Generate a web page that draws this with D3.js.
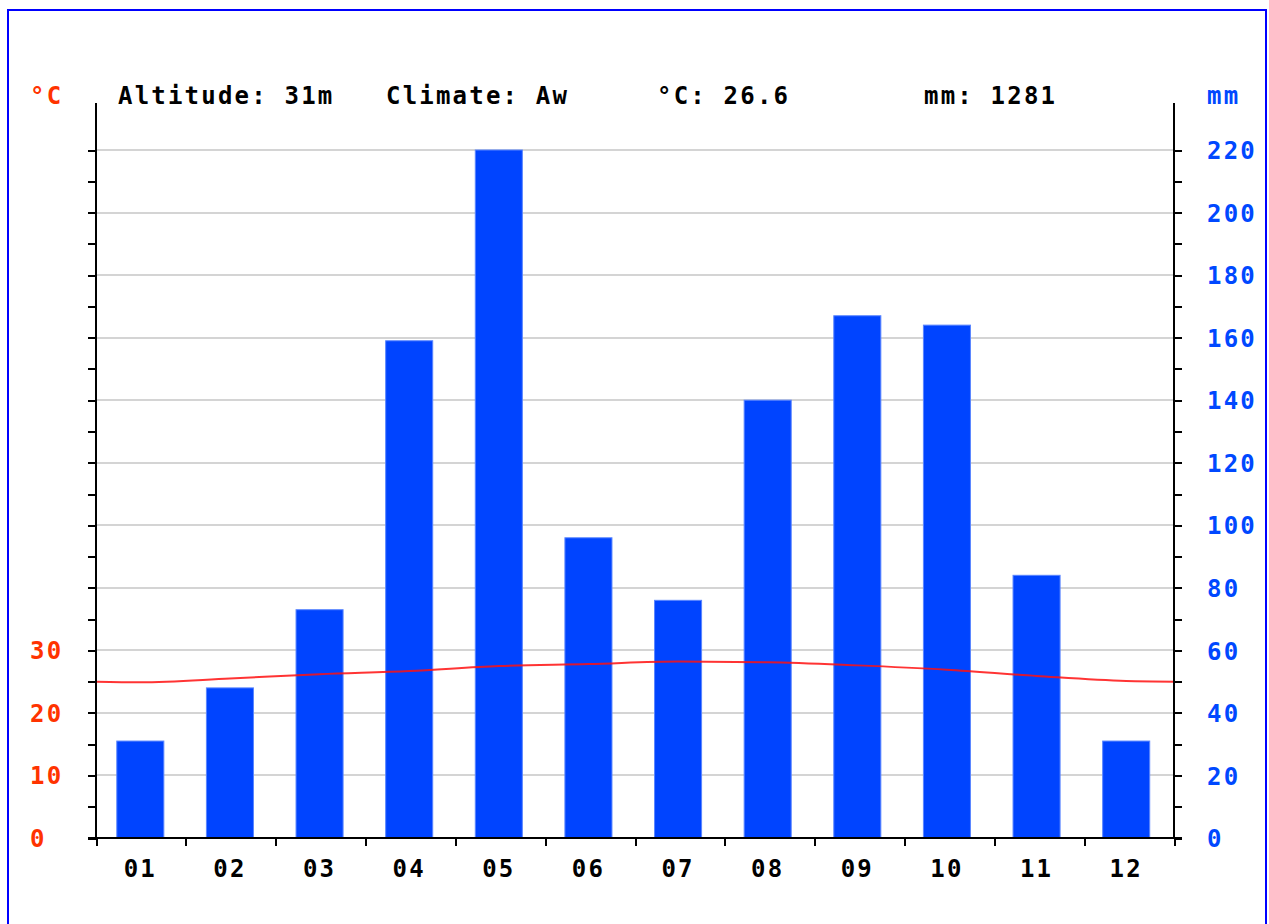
<!doctype html>
<html>
<head>
<meta charset="utf-8">
<title>Climate chart</title>
<script src="https://cdn.jsdelivr.net/npm/d3@7"></script>
<style>
body { margin: 0; background: #fff; }
text { font-family: "DejaVu Sans Mono", monospace; font-weight: bold; font-size: 24px; letter-spacing: 2.2px; }
.axis path, .axis line { stroke: #000; stroke-width: 2; shape-rendering: crispEdges; }
.grid line { stroke: #d4d4d4; stroke-width: 2; shape-rendering: crispEdges; }
</style>
</head>
<body>
<script>
// monthly data
var months = ["01", "02", "03", "04", "05", "06", "07", "08", "09", "10", "11", "12"];
var precip = [31, 48, 73, 159, 220, 96, 76, 140, 167, 164, 84, 31];   // mm
var temp = [24.9, 25.5, 26.2, 26.7, 27.5, 27.8, 28.2, 28.1, 27.6, 26.9, 25.9, 25.1]; // °C
var tempLabels = [0, 10, 20, 30];
var header = ["Altitude: 31m", "Climate: Aw", "°C: 26.6", "mm: 1281"];
var headerX = [118, 386, 657, 924];

var W = 1269, H = 924;
var plotLeft = 96, plotRight = 1174, plotBottom = 838, plotTop = 150;

var svg = d3.select("body").append("svg")
    .attr("width", W)
    .attr("height", H);

svg.append("rect")
    .attr("x", 8).attr("y", 10)
    .attr("width", 1258).attr("height", 930)
    .attr("fill", "none")
    .attr("stroke", "#0000ff")
    .attr("stroke-width", 2);

// bars sit a touch left of the tick slots in the original
var x = d3.scaleBand()
    .domain(months)
    .range([plotLeft - 0.5, plotRight - 3])
    .paddingInner(0.475)
    .paddingOuter(0.2375);

var xi = d3.scaleLinear().domain([0, 12]).range([plotLeft, plotRight]);

var yMm = d3.scaleLinear().domain([0, 220]).range([plotBottom, plotTop]);
var yT = d3.scaleLinear().domain([0, 110]).range([plotBottom, plotTop]);

// grid
svg.append("g")
    .attr("class", "grid")
    .selectAll("line")
    .data(d3.range(20, 221, 20))
    .enter().append("line")
    .attr("x1", plotLeft).attr("x2", plotRight)
    .attr("y1", function(d) { return yMm(d); })
    .attr("y2", function(d) { return yMm(d); });

// bars
svg.selectAll(".bar")
    .data(precip)
    .enter().append("rect")
    .attr("class", "bar")
    .attr("x", function(d, i) { return x(months[i]); })
    .attr("width", x.bandwidth())
    .attr("y", function(d) { return yMm(d); })
    .attr("height", function(d) { return plotBottom - yMm(d); })
    .attr("fill", "#0044ff")
    .attr("stroke", "#5a86ff")
    .attr("stroke-width", 1);

// temperature line, wrapped to the axes
var edge = (temp[0] + temp[11]) / 2;
var pts = [[plotLeft, yT(edge)]]
    .concat(temp.map(function(d, i) { return [x(months[i]) + x.bandwidth() / 2, yT(d)]; }))
    .concat([[plotRight, yT(edge)]]);

svg.append("path")
    .datum(pts)
    .attr("fill", "none")
    .attr("stroke", "#ff1010")
    .attr("stroke-opacity", 0.85)
    .attr("stroke-width", 2)
    .attr("d", d3.line().curve(d3.curveMonotoneX));

// left axis (ticks only)
var gl = svg.append("g")
    .attr("class", "axis")
    .attr("transform", "translate(" + plotLeft + ",0)")
    .call(d3.axisLeft(yMm).tickValues(d3.range(0, 221, 10)).tickSize(8).tickFormat(""));
gl.select(".domain").remove();

// right axis
var gr = svg.append("g")
    .attr("class", "axis")
    .attr("transform", "translate(" + plotRight + ",0)")
    .call(d3.axisRight(yMm).tickValues(d3.range(0, 221, 10)).tickSize(8).tickPadding(25)
        .tickFormat(function(d) { return d % 20 ? "" : d; }));
gr.select(".domain").remove();
gr.selectAll("text").attr("fill", "#0048ff").attr("font-size", null).attr("font-family", null)
    .attr("dy", "0.36em");

// axis lines
svg.append("line").attr("x1", plotLeft).attr("x2", plotLeft).attr("y1", 103).attr("y2", plotBottom + 1)
    .attr("stroke", "#000").attr("stroke-width", 2);
svg.append("line").attr("x1", plotRight).attr("x2", plotRight).attr("y1", 103).attr("y2", plotBottom + 1)
    .attr("stroke", "#000").attr("stroke-width", 2);

// bottom axis
var gb = svg.append("g")
    .attr("class", "axis")
    .attr("transform", "translate(0," + plotBottom + ")")
    .call(d3.axisBottom(xi).ticks(12).tickSize(8).tickFormat(""));
gb.select(".domain").remove();
svg.append("line").attr("x1", plotLeft - 8).attr("x2", plotRight + 8).attr("y1", plotBottom).attr("y2", plotBottom)
    .attr("stroke", "#000").attr("stroke-width", 2);

var gm = svg.append("g")
    .attr("transform", "translate(0," + plotBottom + ")")
    .call(d3.axisBottom(x).tickSize(0).tickPadding(22));
gm.select(".domain").remove();
gm.selectAll("text").attr("fill", "#000").attr("font-size", null).attr("font-family", null);

// temperature labels
svg.selectAll(".tlab")
    .data(tempLabels)
    .enter().append("text")
    .attr("class", "tlab")
    .attr("x", 30)
    .attr("y", function(d) { return yT(d); })
    .attr("dy", "0.36em")
    .attr("fill", "#ff3300")
    .text(function(d) { return d; });

// units
svg.append("text").attr("x", 30).attr("y", 104).attr("fill", "#ff3300").text("°C");
svg.append("text").attr("x", 1207).attr("y", 104).attr("fill", "#0048ff").text("mm");

// header
svg.selectAll(".hdr")
    .data(header)
    .enter().append("text")
    .attr("class", "hdr")
    .attr("x", function(d, i) { return headerX[i]; })
    .attr("y", 104)
    .attr("fill", "#000")
    .text(function(d) { return d; });
</script>
</body>
</html>
